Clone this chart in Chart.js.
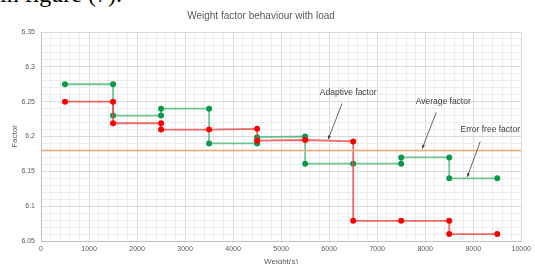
<!DOCTYPE html>
<html>
<head>
<meta charset="utf-8">
<script src="https://cdn.jsdelivr.net/npm/chart.js@4/dist/chart.umd.min.js"></script>
<style>
  body { margin: 0; background: #fff; overflow: hidden; }
  #wrap { position: relative; width: 535px; height: 264px; overflow: hidden; }
  #prev { position: absolute; left: 0; top: -19px; font: 24px "Liberation Serif", serif; color: #000; white-space: nowrap; }
  canvas { position: absolute; left: 0; top: 0; }
</style>
</head>
<body>
<div id="wrap">
  <div id="prev">in figure (7).</div>
  <canvas id="grafico" width="535" height="264"></canvas>
</div>
<script>
// datos
const errorFreeX = [500, 1500, 1500, 2500, 2500, 3500, 3500, 4500, 4500, 5500, 5500, 6500, 7500, 7500, 8500, 8500, 9500];
const errorFreeY = [6.275, 6.275, 6.23, 6.23, 6.24, 6.24, 6.19, 6.19, 6.199, 6.2, 6.161, 6.161, 6.161, 6.17, 6.17, 6.14, 6.14];
const adaptiveX = [500, 1500, 1500, 2500, 2500, 3500, 4500, 4500, 5500, 6500, 6500, 7500, 8500, 8500, 9500];
const adaptiveY = [6.25, 6.25, 6.219, 6.219, 6.21, 6.21, 6.211, 6.194, 6.195, 6.193, 6.079, 6.079, 6.079, 6.06, 6.06];
const averageX = [0, 10000];
const averageY = [6.18, 6.18];
const xTicks = [0, 1000, 2000, 3000, 4000, 5000, 6000, 7000, 8000, 9000, 10000];
const yTicks = [6.05, 6.1, 6.15, 6.2, 6.25, 6.3, 6.35];

const toPoints = (xs, ys) => xs.map((x, i) => ({ x: x, y: ys[i] }));
const isMajorX = v => xTicks.includes(Math.round(v));
const isMajorY = v => yTicks.some(t => Math.abs(t - v) < 1e-6);

// etiquetas con flecha (en unidades de datos)
const notas = [
  { text: 'Adaptive factor', tx: 6396, ty: 6.2635, x1: 6271, y1: 6.2476, x2: 5979, y2: 6.196 },
  { text: 'Average factor', tx: 8375, ty: 6.250, x1: 8229, y1: 6.2346, x2: 7937, y2: 6.1825 },
  { text: 'Error free factor', tx: 9354, ty: 6.210, x1: 9146, y1: 6.1928, x2: 8875, y2: 6.142 }
];

const notasPlugin = {
  id: 'notas',
  afterDatasetsDraw(chart) {
    const { ctx, scales: { x, y } } = chart;
    ctx.save();
    ctx.font = '8.5px "Liberation Sans", Arial, sans-serif';
    ctx.fillStyle = '#404040';
    ctx.strokeStyle = '#404040';
    ctx.lineWidth = 0.8;
    ctx.textAlign = 'center';
    ctx.textBaseline = 'middle';
    notas.forEach(n => {
      ctx.fillText(n.text, x.getPixelForValue(n.tx), y.getPixelForValue(n.ty));
      const ax = x.getPixelForValue(n.x1), ay = y.getPixelForValue(n.y1);
      const bx = x.getPixelForValue(n.x2), by = y.getPixelForValue(n.y2);
      ctx.beginPath();
      ctx.moveTo(ax, ay);
      ctx.lineTo(bx, by);
      ctx.stroke();
      const ang = Math.atan2(by - ay, bx - ax);
      ctx.beginPath();
      ctx.moveTo(bx, by);
      ctx.lineTo(bx - 4 * Math.cos(ang - 0.4), by - 4 * Math.sin(ang - 0.4));
      ctx.lineTo(bx - 4 * Math.cos(ang + 0.4), by - 4 * Math.sin(ang + 0.4));
      ctx.closePath();
      ctx.fill();
    });
    ctx.restore();
  }
};

const fuente = '"Liberation Sans", Arial, sans-serif';

new Chart(document.getElementById('grafico'), {
  type: 'line',
  data: {
    datasets: [
      {
        label: 'Average factor',
        data: toPoints(averageX, averageY),
        borderColor: '#f4a36a',
        borderWidth: 1.5,
        pointRadius: 0
      },
      {
        label: 'Adaptive factor',
        data: toPoints(adaptiveX, adaptiveY),
        borderColor: 'rgba(240, 70, 70, 0.8)',
        borderWidth: 1.8,
        pointRadius: 3,
        pointBackgroundColor: '#ff0000',
        pointBorderColor: '#ff0000',
        pointBorderWidth: 0
      },
      {
        label: 'Error free factor',
        data: toPoints(errorFreeX, errorFreeY),
        borderColor: 'rgba(40, 170, 95, 0.65)',
        borderWidth: 1.8,
        pointRadius: 3,
        pointBackgroundColor: '#0a9a4a',
        pointBorderColor: '#0a9a4a',
        pointBorderWidth: 0
      }
    ]
  },
  options: {
    responsive: false,
    animation: false,
    layout: { padding: { left: 0, right: 13, top: 0, bottom: 0 } },
    plugins: {
      legend: { display: false },
      tooltip: { enabled: false },
      title: {
        display: true,
        text: 'Weight factor behaviour with load',
        color: '#595959',
        font: { family: fuente, size: 10, weight: 'normal' },
        padding: { top: 10, bottom: 10 }
      }
    },
    scales: {
      x: {
        type: 'linear',
        min: 0,
        max: 10000,
        afterFit: s => { s.height = 23; },
        ticks: {
          stepSize: 200,
          autoSkip: false,
          maxRotation: 0,
          maxTicksLimit: 100,
          padding: 4,
          color: '#595959',
          font: { family: fuente, size: 7 },
          callback: v => isMajorX(v) ? String(Math.round(v)) : ''
        },
        grid: {
          drawTicks: false,
          color: ctx => isMajorX(ctx.tick.value) ? '#d9d9d9' : '#ececec',
          lineWidth: 1
        },
        border: { color: '#bfbfbf' },
        title: {
          display: true,
          text: 'Weight(s)',
          color: '#595959',
          font: { family: fuente, size: 8 },
          padding: { top: 0, bottom: -3 }
        }
      },
      y: {
        min: 6.05,
        max: 6.35,
        afterFit: s => { s.width = 41; },
        ticks: {
          stepSize: 0.01,
          autoSkip: false,
          maxTicksLimit: 100,
          padding: 6,
          color: '#595959',
          font: { family: fuente, size: 7 },
          callback: v => isMajorY(v) ? String(+v.toFixed(2)) : ''
        },
        grid: {
          drawTicks: false,
          color: ctx => isMajorY(ctx.tick.value) ? '#d9d9d9' : '#ececec',
          lineWidth: 1
        },
        border: { color: '#bfbfbf' },
        title: {
          display: true,
          text: 'Factor',
          color: '#595959',
          font: { family: fuente, size: 8 },
          padding: { top: 10, bottom: 0 }
        }
      }
    }
  },
  plugins: [notasPlugin]
});
</script>
</body>
</html>
